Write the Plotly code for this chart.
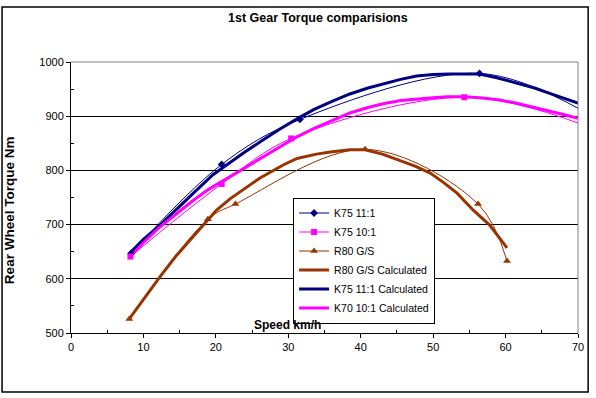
import plotly.graph_objects as go

# ---- data ----
k75_11_x = [8.3, 20.8, 31.6, 56.4, 70.5]
k75_11_y = [647, 811, 894, 979, 911]

k75_10_x = [8.2, 20.8, 30.4, 54.3, 70.5]
k75_10_y = [641, 775, 859, 935, 885]

r80_x = [8.05, 18.9, 22.7, 40.6, 56.2, 60.2]
r80_y = [526, 710, 738, 839, 738, 633]

r80_calc_x = [8.0, 10.0, 12.3, 14.5, 16.9, 18.9, 20.1, 22.0, 23.8, 26.1, 29.3, 31.2, 33.9,
              35.8, 38.5, 40.6, 43.0, 45.2, 47.5, 49.6, 51.5, 53.3, 55.5, 57.8, 59.2, 60.2]
r80_calc_y = [525, 562, 604, 642, 678, 708, 727, 748, 764, 786, 810, 822, 830,
              834, 838, 838, 830, 819, 808, 795, 777, 758, 727, 699, 675, 657]

k75_11_calc_x = [8.3, 10.0, 12.3, 14.5, 16.9, 19.6, 21.5, 24.0, 26.5, 28.8, 31.2, 33.5,
                 35.8, 38.5, 41.0, 43.1, 45.5, 47.7, 50.0, 52.3, 54.5, 56.4, 58.8, 61.5,
                 64.0, 66.1, 68.0, 70.0]
k75_11_calc_y = [650, 673, 699, 728, 758, 792, 810, 834, 856, 876, 895, 912,
                 926, 941, 952, 960, 968, 974, 977, 978, 978, 978, 971, 961,
                 952, 942, 933, 924]

k75_10_calc_x = [8.2, 10.0, 12.3, 14.5, 16.9, 19.0, 21.5, 24.0, 26.5, 28.8, 31.2, 33.5,
                 35.8, 38.5, 41.0, 43.1, 45.5, 47.7, 50.0, 52.0, 54.2, 56.5, 59.2, 61.5,
                 63.8, 66.0, 68.0, 70.0]
k75_10_calc_y = [641, 667, 696, 720, 745, 765, 785, 805, 825, 844, 862, 877,
                 891, 906, 916, 923, 929, 932, 934, 936, 936, 934, 930, 924,
                 917, 909, 903, 896]

NAVY = "#000080"
MAGENTA = "#FF00FF"
BROWN = "#993300"

fig = go.Figure()

# thick calculated curves
fig.add_trace(go.Scatter(x=r80_calc_x, y=r80_calc_y, mode="lines", name="R80 G/S Calculated",
                         line=dict(color=BROWN, width=3), legendrank=4))
fig.add_trace(go.Scatter(x=k75_11_calc_x, y=k75_11_calc_y, mode="lines", name="K75 11:1 Calculated",
                         line=dict(color=NAVY, width=3), legendrank=5))
fig.add_trace(go.Scatter(x=k75_10_calc_x, y=k75_10_calc_y, mode="lines", name="K70 10:1 Calculated",
                         line=dict(color=MAGENTA, width=3), legendrank=6))

# thin measured series with markers
fig.add_trace(go.Scatter(x=k75_11_x, y=k75_11_y, mode="lines+markers", name="K75 11:1",
                         line=dict(color=NAVY, width=1, shape="spline"),
                         marker=dict(symbol="diamond", size=6, color=NAVY), legendrank=1))
fig.add_trace(go.Scatter(x=k75_10_x, y=k75_10_y, mode="lines+markers", name="K75 10:1",
                         line=dict(color=MAGENTA, width=1, shape="spline"),
                         marker=dict(symbol="square", size=6, color=MAGENTA), legendrank=2))
fig.add_trace(go.Scatter(x=r80_x, y=r80_y, mode="lines+markers", name="R80 G/S",
                         line=dict(color=BROWN, width=1, shape="spline"),
                         marker=dict(symbol="triangle-up", size=7, color=BROWN), legendrank=3))

FONT = "Liberation Sans, Arial, sans-serif"

fig.update_layout(
    width=596, height=398,
    margin=dict(l=71, r=18, t=62, b=65),
    paper_bgcolor="white", plot_bgcolor="white",
    font=dict(family=FONT, size=11, color="black"),
    showlegend=True,
    legend=dict(x=0.438, y=0.50, xanchor="left", yanchor="top",
                bgcolor="white", bordercolor="black", borderwidth=1,
                font=dict(family=FONT, size=10.5, color="black"),
                tracegroupgap=0, itemwidth=30),
    xaxis=dict(range=[0, 70], tickvals=[0, 10, 20, 30, 40, 50, 60, 70],
               showgrid=False, zeroline=False, showline=True, linecolor="black", linewidth=1,
               ticks="outside", ticklen=4, tickcolor="black",
               minor=dict(tickvals=[5, 15, 25, 35, 45, 55, 65], ticks="inside", ticklen=3, tickcolor="black"),
               tickfont=dict(family=FONT, size=11, color="black")),
    yaxis=dict(range=[500, 1000], tickvals=[500, 600, 700, 800, 900, 1000],
               showgrid=True, gridcolor="black", gridwidth=1,
               zeroline=False, showline=True, linecolor="black", linewidth=1,
               ticks="outside", ticklen=4, tickcolor="black",
               minor=dict(tickvals=[550, 650, 750, 850, 950], ticks="inside", ticklen=3, tickcolor="black",
                          showgrid=False),
               tickfont=dict(family=FONT, size=11, color="black")),
    shapes=[
        dict(type="line", xref="paper", yref="paper", x0=0, x1=1, y0=1, y1=1,
             line=dict(color="#808080", width=1), layer="above"),
        dict(type="line", xref="paper", yref="paper", x0=1, x1=1, y0=0, y1=1,
             line=dict(color="#808080", width=1), layer="above"),
        dict(type="rect", xref="paper", yref="paper", x0=-0.136, x1=1.020, y0=-0.218, y1=1.203,
             line=dict(color="black", width=1.5), layer="below"),
    ],
    annotations=[
        dict(text="<b>1st Gear Torque comparisions</b>", xref="paper", yref="paper",
             x=0.487, y=1.162, xanchor="center", yanchor="middle", showarrow=False,
             font=dict(family=FONT, size=12.5, color="black")),
        dict(text="<b>Rear Wheel Torque Nm</b>", xref="paper", yref="paper",
             x=-0.120, y=0.454, xanchor="center", yanchor="middle", textangle=-90, showarrow=False,
             font=dict(family=FONT, size=13.5, color="black")),
        dict(text="<b>Speed km/h</b>", xref="x", yref="y", x=25, y=500,
             xanchor="left", yanchor="bottom", yshift=-1, showarrow=False,
             font=dict(family=FONT, size=12, color="black")),
    ],
)

fig.write_html("out.html", config={"displayModeBar": False},
               post_script="document.body.style.margin='0';document.body.style.padding='0';")
